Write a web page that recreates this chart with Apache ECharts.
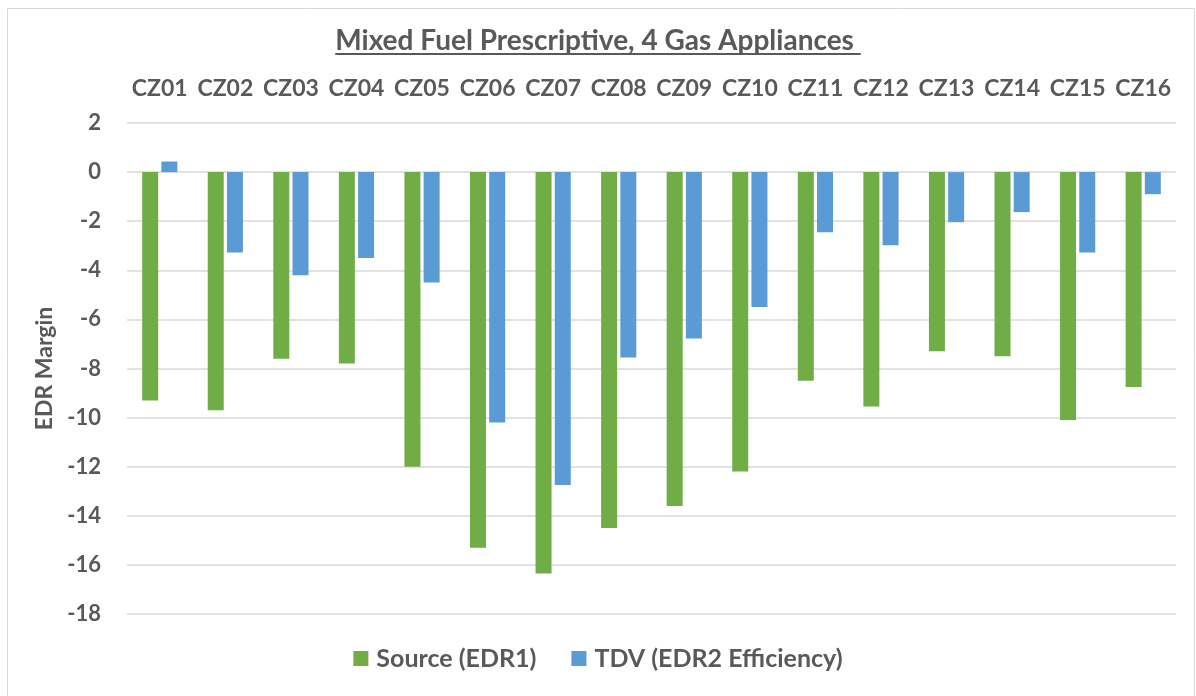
<!DOCTYPE html>
<html>
<head>
<meta charset="utf-8">
<script src="https://cdn.jsdelivr.net/npm/echarts@6/dist/echarts.min.js"></script>
<style>html,body{margin:0;padding:0;background:#fff;}#chart{width:1196px;height:696px;}</style>
</head>
<body>
<div id="chart"></div>
<script>
const categories = ['CZ01','CZ02','CZ03','CZ04','CZ05','CZ06','CZ07','CZ08','CZ09','CZ10','CZ11','CZ12','CZ13','CZ14','CZ15','CZ16'];
const sourceEDR1 = [-9.3, -9.7, -7.6, -7.8, -12.0, -15.3, -16.35, -14.5, -13.6, -12.2, -8.5, -9.55, -7.3, -7.5, -10.1, -8.75];
const tdvEDR2 = [0.43, -3.27, -4.2, -3.5, -4.5, -10.2, -12.75, -7.55, -6.78, -5.49, -2.45, -2.98, -2.04, -1.63, -3.27, -0.9];
const yTicks = { min: -18, max: 2, interval: 2 };
const titleText = 'Mixed Fuel Prescriptive, 4 Gas Appliances ';
const yName = 'EDR Margin';
const seriesNames = ['Source (EDR1)', 'TDV (EDR2 Efficiency)'];

const FONT = 'Lato, "Open Sans", sans-serif';
const TXT = '#595959';
const TITLE_SIZE = 28;
const chart = echarts.init(document.getElementById('chart'));

// measure title width for underline
const ctx = document.createElement('canvas').getContext('2d');
ctx.font = 'bold ' + TITLE_SIZE + 'px ' + FONT;
const tw = ctx.measureText(titleText).width;

chart.setOption({
  animation: false,
  backgroundColor: '#fff',
  graphic: [
    { type: 'rect', left: 5, top: 6, shape: { width: 1187, height: 688 },
      style: { fill: 'none', stroke: '#d9d9d9', lineWidth: 1 } },
    { type: 'rect', left: 'center', top: 53, shape: { width: tw, height: 2 },
      style: { fill: TXT } }
  ],
  title: {
    text: titleText, left: 'center', top: 22,
    textStyle: { fontFamily: FONT, fontSize: TITLE_SIZE, fontWeight: 'bold', color: TXT }
  },
  legend: {
    bottom: 20, left: 'center', itemWidth: 15, itemHeight: 15, itemGap: 35,
    icon: 'rect',
    textStyle: { fontFamily: FONT, fontSize: 25, fontWeight: 'bold', color: TXT, padding: [0, 0, 0, 3] },
    data: seriesNames
  },
  grid: { left: 127, right: 20, top: 123, bottom: 82 },
  xAxis: {
    type: 'category', position: 'top', data: categories,
    axisLine: { show: false }, axisTick: { show: false },
    axisLabel: { interval: 0, fontFamily: FONT, fontSize: 23, fontWeight: 'bold', color: TXT, margin: 23 }
  },
  yAxis: {
    type: 'value', min: yTicks.min, max: yTicks.max, interval: yTicks.interval,
    name: yName, nameLocation: 'middle', nameGap: 70, nameRotate: 90,
    nameTextStyle: { fontFamily: FONT, fontSize: 23, fontWeight: 'bold', color: TXT },
    axisLine: { show: false }, axisTick: { show: false },
    axisLabel: { fontFamily: FONT, fontSize: 22, fontWeight: 'bold', color: TXT, margin: 26 },
    splitLine: { lineStyle: { color: '#d9d9d9', width: 1.5 } }
  },
  series: [
    { name: seriesNames[0], type: 'bar', data: sourceEDR1, barWidth: 16, barGap: '20%',
      itemStyle: { color: '#70AD47' } },
    { name: seriesNames[1], type: 'bar', data: tdvEDR2, barWidth: 16, barGap: '20%',
      itemStyle: { color: '#5B9BD5' } }
  ]
});
</script>
</body>
</html>
